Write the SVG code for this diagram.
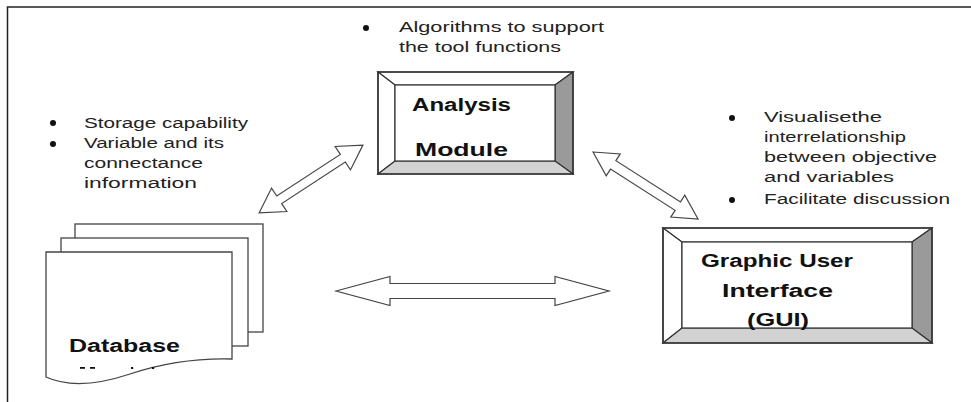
<svg xmlns="http://www.w3.org/2000/svg" width="971" height="402" viewBox="0 0 971 402">
<style>
.t{font-family:"Liberation Sans",Arial,sans-serif;font-size:14px;fill:#222}
.b{font-family:"Liberation Sans",Arial,sans-serif;font-weight:bold;font-size:18px;fill:#111}
.edge{stroke:#333;stroke-width:1.2;stroke-linejoin:miter}
.arrow{fill:#fff;stroke:#444;stroke-width:1.2;stroke-linejoin:miter}
.page{fill:#fff;stroke:#444;stroke-width:1.3}
.dot{fill:#111}
</style>
<rect width="971" height="402" fill="#fff"/>
<path d="M7.5,402 V7 H971" fill="none" stroke="#222" stroke-width="1.5"/>

<g id="connectors">
  <polygon class="arrow" points="336,291 390,276.5 390,283.5 555,283.5 555,276.5 609,291 555,305.5 555,298.5 390,298.5 390,305.5"/>
  <polygon class="arrow" transform="translate(311,179) rotate(-33.18)" points="-62,0 -38,-14 -38,-4.5 38,-4.5 38,-14 62,0 38,14 38,4.5 -38,4.5 -38,14"/>
  <polygon class="arrow" transform="translate(645.5,185.5) rotate(32.54)" points="-62.3,0 -38.3,-13 -38.3,-5 38.3,-5 38.3,-13 62.3,0 38.3,13 38.3,5 -38.3,5 -38.3,13"/>
</g>

<g id="analysis-module">
  <polygon class="edge" fill="#fff" points="378,72 573,72 555,85 395,85"/>
  <polygon class="edge" fill="#fff" points="378,72 395,85 395,161 378,174"/>
  <polygon class="edge" fill="#9a9a9a" points="573,72 573,174 555,161 555,85"/>
  <polygon class="edge" fill="#d2d2d2" points="378,174 573,174 555,161 395,161"/>
  <rect class="edge" x="395" y="85" width="160" height="76" fill="#fff"/>
  <rect x="378" y="72" width="195" height="102" fill="none" stroke="#333" stroke-width="1.5"/>
  <text class="b" x="412" y="111" textLength="99" lengthAdjust="spacingAndGlyphs">Analysis</text>
  <text class="b" x="415" y="156" textLength="93" lengthAdjust="spacingAndGlyphs">Module</text>
</g>

<g id="gui">
  <polygon class="edge" fill="#fff" points="663,228 932,228 912,242 682,242"/>
  <polygon class="edge" fill="#fff" points="663,228 682,242 682,328 663,343"/>
  <polygon class="edge" fill="#9a9a9a" points="932,228 932,343 912,328 912,242"/>
  <polygon class="edge" fill="#d2d2d2" points="663,343 932,343 912,328 682,328"/>
  <rect class="edge" x="682" y="242" width="230" height="86" fill="#fff"/>
  <rect x="663" y="228" width="269" height="115" fill="none" stroke="#333" stroke-width="1.5"/>
  <text class="b" x="701" y="267" textLength="152" lengthAdjust="spacingAndGlyphs">Graphic User</text>
  <text class="b" x="722" y="297" textLength="111" lengthAdjust="spacingAndGlyphs">Interface</text>
  <text class="b" x="747" y="326" textLength="62" lengthAdjust="spacingAndGlyphs">(GUI)</text>
</g>

<g id="database">
  <rect class="page" x="75" y="224" width="188" height="108"/>
  <rect class="page" x="61" y="238" width="187" height="108"/>
  <path class="page" d="M46,252 H232 V359 C195,358 160,364 130,374 C100,384 70,388 46,377 Z"/>
  <text class="b" x="69" y="352" textLength="111" lengthAdjust="spacingAndGlyphs">Database</text>
  <rect class="dot" x="80" y="367" width="5" height="1.8"/>
  <rect class="dot" x="90" y="367" width="5" height="1.8"/>
  <rect class="dot" x="131" y="367" width="2.2" height="2"/>
  <rect class="dot" x="152" y="367" width="2.2" height="2"/>
</g>

<g id="notes-analysis">
  <circle class="dot" cx="366" cy="28" r="3"/>
  <text class="t" x="399" y="32" textLength="205" lengthAdjust="spacingAndGlyphs">Algorithms to support</text>
  <text class="t" x="399" y="52" textLength="162" lengthAdjust="spacingAndGlyphs">the tool functions</text>
</g>

<g id="notes-database">
  <circle class="dot" cx="53" cy="123" r="3"/>
  <circle class="dot" cx="53" cy="144" r="3"/>
  <text class="t" x="84" y="128" textLength="164" lengthAdjust="spacingAndGlyphs">Storage capability</text>
  <text class="t" x="84" y="148" textLength="140" lengthAdjust="spacingAndGlyphs">Variable and its</text>
  <text class="t" x="84" y="168" textLength="119" lengthAdjust="spacingAndGlyphs">connectance</text>
  <text class="t" x="84" y="188" textLength="113" lengthAdjust="spacingAndGlyphs">information</text>
</g>

<g id="notes-gui">
  <circle class="dot" cx="732" cy="118" r="3"/>
  <circle class="dot" cx="732" cy="200" r="3"/>
  <text class="t" x="764" y="122" textLength="118" lengthAdjust="spacingAndGlyphs">Visualisethe</text>
  <text class="t" x="764" y="142" textLength="142" lengthAdjust="spacingAndGlyphs">interrelationship</text>
  <text class="t" x="764" y="162" textLength="173" lengthAdjust="spacingAndGlyphs">between objective</text>
  <text class="t" x="764" y="182" textLength="130" lengthAdjust="spacingAndGlyphs">and variables</text>
  <text class="t" x="764" y="204" textLength="186" lengthAdjust="spacingAndGlyphs">Facilitate discussion</text>
</g>
</svg>
